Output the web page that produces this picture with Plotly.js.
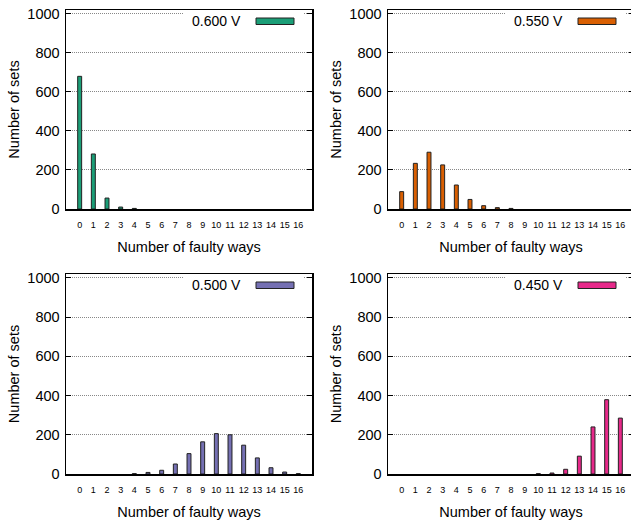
<!DOCTYPE html>
<html><head><meta charset="utf-8">
<script src="https://cdn.plot.ly/plotly-3.0.1.min.js"></script>
<style>html,body{margin:0;padding:0;overflow:hidden;background:#fff}#chart{width:645px;height:521px}</style>
</head><body><div id="chart"></div>
<script>
// ---- data ----
const ways = [0,1,2,3,4,5,6,7,8,9,10,11,12,13,14,15,16];
const wayLabels = ['0','1','2','3','4','5','6','7','8','9','10','11','12','13','14','15','16'];
const seriesNames = ['0.600 V','0.550 V','0.500 V','0.450 V'];
const sets_0600 = [680,282,56,10,3,0,0,0,0,0,0,0,0,0,0,0,0];
const sets_0550 = [89,234,291,226,123,49,17,7,3,0,0,0,0,0,0,0,0];
const sets_0500 = [0,0,0,0,2,8,19,51,104,164,206,200,147,82,32,10,2];
const sets_0450 = [0,0,0,0,0,0,0,0,0,0,2,5,24,91,240,379,285];
const seriesColors = ['#1b9e77','#d95f02','#7570b3','#e7298a'];
const yTicks = [0,200,400,600,800,1000];
const yTickLabels = ['0','200','400','600','800','1000'];
const xTitle = 'Number of faulty ways';
const yTitle = 'Number of sets';

// ---- layout ----
const W = 645, H = 521;
const series = [sets_0600, sets_0550, sets_0500, sets_0450];
const panels = [
  {L:66, R:312, T:10, B:209},
  {L:388, R:634, T:10, B:209},
  {L:66, R:312, T:274, B:474},
  {L:388, R:634, T:274, B:474}
];
const FONT = 'Liberation Sans, Arial, Helvetica, sans-serif';
const fx = p => p / W;
const fy = p => 1 - p / H;

const data = [];
const layout = {
  width: W, height: H,
  margin: {l:0, r:0, t:0, b:0},
  paper_bgcolor: '#fff', plot_bgcolor: '#fff',
  showlegend: false,
  font: {family: FONT, color: '#000', size: 14},
  shapes: [], annotations: []
};

panels.forEach((p, i) => {
  const n = i + 1;
  const xa = 'x' + (n === 1 ? '' : n), ya = 'y' + (n === 1 ? '' : n);
  data.push({
    type: 'bar', x: ways, y: series[i], xaxis: xa, yaxis: ya,
    width: 0.29, name: seriesNames[i],
    marker: {color: seriesColors[i],
             line: {color: '#222', width: series[i].map(v => v > 0 ? 1 : 0)}},
    hoverinfo: 'x+y'
  });
  layout['xaxis' + (n === 1 ? '' : n)] = {
    domain: [fx(p.L), fx(p.R)], anchor: ya, range: [-1, 17],
    tickmode: 'array', tickvals: ways, ticktext: wayLabels,
    ticks: '', showline: true, mirror: true, linecolor: '#000', linewidth: 1.5,
    showgrid: false, zeroline: false, ticklabelstandoff: 7,
    tickfont: {size: 9, family: FONT, color: '#000'},
    title: {text: xTitle, font: {size: 14.5, family: FONT, color: '#000'}, standoff: 12},
    fixedrange: true
  };
  layout['yaxis' + (n === 1 ? '' : n)] = {
    domain: [fy(p.B), fy(p.T)], anchor: xa, range: [0, 1020],
    tickmode: 'array', tickvals: yTicks, ticktext: yTickLabels,
    ticks: 'inside', ticklen: 5, tickwidth: 1, tickcolor: '#000',
    showline: true, mirror: 'ticks', linecolor: '#000', linewidth: 1.5,
    showgrid: true, gridcolor: '#888', gridwidth: 1, griddash: '1px,1px',
    zeroline: false, ticklabelstandoff: 2,
    tickfont: {size: 14.5, family: FONT, color: '#000'},
    title: {text: yTitle, font: {size: 14.5, family: FONT, color: '#000'}, standoff: 4},
    fixedrange: true
  };
  // key background
  layout.shapes.push({type:'rect', xref:'paper', yref:'paper', layer:'above',
    x0: fx(p.L + 117), x1: fx(p.L + 237), y0: fy(p.T + 20), y1: fy(p.T + 2),
    fillcolor: '#fff', line: {width: 0}});
  // key sample
  layout.shapes.push({type:'rect', xref:'paper', yref:'paper', layer:'above',
    x0: fx(p.L + 190), x1: fx(p.L + 228), y0: fy(p.T + 14.5), y1: fy(p.T + 8),
    fillcolor: seriesColors[i], line: {color: '#222', width: 1}});
  layout.annotations.push({xref:'paper', yref:'paper', showarrow:false,
    x: fx(p.L + 177), y: fy(p.T + 11), xanchor:'right', yanchor:'middle',
    text: seriesNames[i], font: {size: 14, family: FONT, color: '#000'}});
});

Plotly.newPlot('chart', data, layout, {staticPlot: true, displayModeBar: false});
</script>
</body></html>
